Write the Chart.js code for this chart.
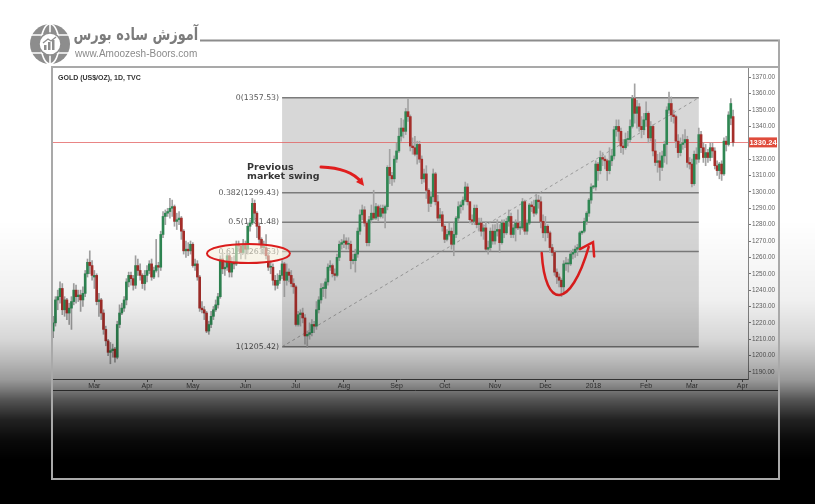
<!DOCTYPE html>
<html>
<head>
<meta charset="utf-8">
<script src="https://cdn.jsdelivr.net/npm/chart.js@4.4.1/dist/chart.umd.min.js"></script>
<style>
  body { margin: 0; background: #fff; }
  #wrap { position: relative; width: 815px; height: 504px; overflow: hidden; background: #fff; }
  #grafico { position: absolute; left: 0; top: 0; }
  #sombra {
    position: absolute; left: 0; top: 0; width: 815px; height: 504px; pointer-events: none;
    background: linear-gradient(to bottom,
      rgba(0,0,0,0) 0px, rgba(0,0,0,0) 220px, rgba(0,0,0,.06) 300px, rgba(0,0,0,.16) 340px,
      rgba(0,0,0,.27) 360px, rgba(0,0,0,.4) 380px, rgba(0,0,0,.53) 390px, rgba(0,0,0,.67) 400px,
      rgba(0,0,0,.87) 420px, rgba(0,0,0,.96) 440px, #000 460px);
  }
  #marco { position: absolute; left: 0; top: 0; }
  #logo-fa {
    position: absolute; right: 617px; top: 26px; font: bold 17px 'DejaVu Sans'; line-height: 1;
    color: #7c7c7c; direction: rtl; white-space: nowrap;
    transform: scaleX(0.76); transform-origin: right center;
  }
  #logo-url { position: absolute; left: 75px; top: 49px; font: 10px 'Liberation Sans'; line-height: 1; color: #8a8a8a; white-space: nowrap; }
</style>
</head>
<body>
<div id="wrap">
  <canvas id="grafico" width="815" height="504"></canvas>
  <div id="sombra"></div>
  <svg id="marco" width="815" height="504">
    <line x1="200" y1="40.5" x2="780" y2="40.5" stroke="#8c8c8c" stroke-width="2"/>
    <path d="M779 40 V479 H52 V67 H779" fill="none" stroke="#a9a9a9" stroke-width="2"/>
    <g transform="translate(50,44)">
      <circle r="20" fill="#8d8d8d"/>
      <ellipse rx="9" ry="20" fill="none" stroke="#fff" stroke-width="1.6"/>
      <line x1="-20" y1="-9" x2="20" y2="-9" stroke="#fff" stroke-width="1.6"/>
      <line x1="-20" y1="9" x2="20" y2="9" stroke="#fff" stroke-width="1.6"/>
      <line x1="0" y1="-20" x2="0" y2="20" stroke="#fff" stroke-width="1.6"/>
      <circle r="11" fill="#fff" stroke="#8d8d8d" stroke-width="1.5"/>
      <rect x="-6" y="1" width="2.5" height="5" fill="#8d8d8d"/>
      <rect x="-2" y="-2" width="2.5" height="8" fill="#8d8d8d"/>
      <rect x="2" y="-4" width="2.5" height="10" fill="#8d8d8d"/>
      <polyline points="-7,-1 -2,-5 1,-3 6,-7" fill="none" stroke="#8d8d8d" stroke-width="1.3"/>
    </g>
  </svg>
  <div id="logo-fa">آموزش ساده بورس</div>
  <div id="logo-url">www.Amoozesh-Boors.com</div>
</div>
<script>
// Datos diarios GOLD (US$/OZ), 1D, TVC — un valor por día hábil desde el 3 feb 2017
const fechaInicio = '2017-02-03';
const totalDias = 304; // incluye unos días vacíos a la derecha del último precio

const opens = [
  1215,1220,1234,1236,1241,1228,1234,1226,1229,1233,1240,1236,1237,1234,1238,1250,1257,1255,
  1248,1249,1233,1234,1226,1216,1209,1202,1203,1204,1199,1219,1226,1229,1234,1245,1249,1247,1243,1255,1252,1249,1244,
  1249,1252,1256,1248,1252,1255,1254,1274,1285,1287,1288,1290,1291,1282,1283,1284,1276,1264,1265,1264,
  1268,1255,1256,1248,1229,1228,1226,1215,1219,1224,1228,1231,1236,1259,1253,1254,1261,1251,1257,1256,1268,1267,1263,
  1268,1265,1279,1281,1293,1287,1279,1271,1266,1266,1261,1254,1254,1246,1243,1246,1249,1256,1246,1251,1249,1244,
  1242,1219,1225,1226,1223,1212,1213,1214,1219,1218,1228,1234,1241,1241,1245,1254,1255,1250,1249,1260,1268,
  1269,1270,1268,1268,1258,1258,1262,1276,1286,1289,1281,1269,1283,1287,1284,1291,1285,1290,1287,1291,1315,1310,1308,
  1320,1325,1334,1339,1337,1349,1346,1328,1327,1323,1329,1320,1308,1311,1301,1293,1297,1311,1294,1284,1286,
  1279,1271,1274,1276,1268,1274,1284,1291,1292,1295,1303,1294,1283,1282,1290,1280,1281,1276,1278,1265,1266,1276,
  1270,1276,1277,1269,1281,1275,1282,1285,1274,1278,1281,1278,1278,1294,1276,1281,1292,1291,1287,1295,1294,1282,
  1275,1279,1275,1266,1263,1251,1248,1246,1242,1256,1256,1256,1262,1263,1265,1266,1275,1276,1282,1287,1295,
  1303,1303,1317,1313,1321,1320,1319,1313,1319,1322,1338,1340,1337,1328,1327,1332,1332,1340,1357,1348,1352,1340,1338,
  1344,1348,1333,1340,1325,1318,1319,1315,1322,1329,1350,1354,1347,1346,1331,1324,1329,1330,1332,1318,
  1317,1305,1323,1320,1335,1327,1321,1324,1321,1327,1325,1316,1313,1317,1311,1331,1329,1345,1346
];
const highs = [
  1224,1236,1240,1245,1244,1236,1235,1232,1236,1244,1243,1240,1240,1242,1252,1259,1264,1258,
  1252,1250,1238,1235,1228,1218,1210,1208,1207,1205,1221,1231,1232,1236,1247,1251,1251,1249,1261,1259,1256,1250,1252,
  1255,1258,1259,1254,1271,1257,1276,1288,1289,1290,1296,1295,1292,1287,1288,1285,1277,1270,1269,1270,
  1269,1259,1258,1249,1233,1230,1227,1221,1227,1230,1234,1238,1261,1263,1257,1263,1262,1260,1261,1270,1270,1268,1271,
  1270,1281,1283,1296,1295,1288,1281,1272,1270,1274,1263,1258,1256,1249,1250,1252,1258,1257,1256,1253,1252,1247,
  1243,1227,1228,1229,1225,1215,1220,1222,1221,1233,1236,1244,1244,1247,1256,1258,1256,1253,1262,1270,1271,
  1274,1272,1272,1270,1262,1265,1278,1289,1292,1291,1282,1285,1292,1301,1293,1292,1292,1292,1292,1316,1326,1312,1322,
  1330,1339,1345,1344,1351,1357,1347,1333,1334,1331,1331,1322,1314,1316,1302,1300,1314,1312,1298,1290,1288,
  1280,1277,1281,1278,1281,1285,1294,1294,1297,1306,1305,1294,1286,1292,1292,1284,1284,1280,1282,1270,1278,1280,
  1280,1283,1280,1283,1283,1284,1289,1287,1280,1283,1289,1282,1296,1295,1283,1293,1294,1295,1299,1298,1297,1286,
  1285,1280,1276,1268,1264,1253,1250,1247,1258,1260,1259,1264,1265,1267,1268,1276,1276,1284,1288,1296,1305,
  1304,1319,1318,1325,1324,1322,1320,1327,1326,1340,1344,1344,1339,1332,1336,1337,1344,1359,1366,1356,1354,1346,1348,
  1355,1349,1343,1341,1332,1323,1324,1325,1331,1352,1361,1358,1350,1347,1335,1333,1335,1338,1334,1321,
  1320,1325,1327,1339,1337,1330,1329,1326,1330,1330,1327,1319,1318,1319,1333,1334,1349,1357,1350
];
const lows = [
  1211,1218,1228,1232,1225,1224,1222,1219,1216,1231,1232,1233,1227,1230,1236,1248,1250,1246,
  1241,1231,1224,1222,1213,1206,1200,1195,1199,1196,1198,1217,1225,1227,1231,1242,1243,1240,1241,1249,1246,1241,1240,
  1245,1250,1246,1247,1251,1248,1252,1272,1280,1285,1284,1285,1279,1277,1280,1271,1262,1260,1261,1262,
  1254,1252,1246,1227,1226,1222,1214,1213,1217,1222,1227,1229,1235,1250,1249,1252,1248,1248,1253,1255,1264,1259,1262,
  1259,1262,1276,1280,1283,1272,1268,1262,1262,1259,1252,1250,1243,1240,1241,1244,1247,1236,1243,1245,1242,1238,
  1218,1218,1218,1220,1207,1205,1210,1212,1214,1216,1226,1232,1236,1235,1243,1252,1248,1246,1248,1258,1265,
  1266,1265,1265,1253,1256,1251,1260,1274,1283,1279,1267,1267,1281,1283,1283,1282,1284,1284,1278,1289,1305,1304,1306,
  1318,1324,1331,1333,1335,1343,1325,1323,1322,1317,1318,1305,1306,1296,1288,1291,1294,1292,1282,1282,1276,
  1269,1270,1273,1265,1261,1272,1282,1287,1289,1294,1292,1281,1280,1280,1278,1276,1273,1271,1264,1262,1264,1268,
  1268,1273,1263,1268,1272,1274,1279,1272,1272,1270,1277,1274,1277,1274,1274,1280,1288,1285,1286,1290,1278,1272,
  1270,1272,1263,1261,1249,1244,1242,1236,1238,1252,1251,1255,1259,1260,1261,1265,1274,1275,1280,1285,1293,
  1302,1301,1307,1311,1316,1314,1307,1311,1316,1320,1334,1331,1324,1323,1326,1328,1330,1339,1342,1339,1337,1333,1335,
  1340,1330,1331,1322,1316,1312,1307,1313,1318,1317,1348,1343,1342,1327,1321,1322,1326,1327,1315,1314,
  1303,1304,1317,1318,1324,1318,1316,1318,1319,1321,1314,1310,1308,1307,1310,1325,1328,1341,1328
];
const closes = [
  1220,1234,1236,1241,1228,1234,1226,1229,1233,1240,1236,1237,1234,1238,1250,1257,1255,1249,
  1249,1233,1234,1226,1216,1209,1202,1203,1204,1199,1219,1226,1229,1234,1245,1249,1247,1243,1255,1252,1249,1244,1249,
  1252,1256,1248,1252,1255,1254,1274,1285,1287,1288,1290,1291,1282,1283,1284,1276,1264,1265,1264,1268,
  1255,1256,1248,1229,1228,1226,1215,1219,1224,1228,1231,1236,1259,1253,1254,1261,1251,1257,1256,1268,1267,1263,1268,
  1265,1279,1281,1293,1287,1279,1271,1266,1266,1261,1254,1254,1246,1243,1246,1249,1256,1246,1251,1249,1244,1242,
  1219,1225,1226,1223,1212,1213,1214,1219,1218,1228,1234,1241,1241,1245,1254,1255,1250,1249,1260,1268,1269,
  1270,1268,1268,1258,1258,1262,1276,1286,1289,1281,1269,1283,1287,1284,1291,1285,1290,1287,1291,1315,1310,1308,1320,
  1325,1334,1339,1337,1349,1346,1328,1327,1323,1329,1320,1308,1311,1301,1293,1297,1311,1294,1284,1286,1279,
  1271,1274,1276,1268,1274,1284,1291,1292,1295,1303,1294,1283,1282,1290,1280,1281,1276,1278,1265,1266,1276,1270,
  1276,1277,1269,1281,1275,1282,1285,1274,1278,1281,1278,1278,1294,1276,1281,1292,1291,1287,1295,1294,1282,1275,
  1279,1275,1266,1263,1251,1248,1246,1242,1256,1256,1256,1262,1263,1265,1266,1275,1276,1282,1287,1295,1303,
  1303,1317,1313,1321,1320,1319,1313,1319,1322,1338,1340,1337,1328,1327,1332,1332,1340,1357,1348,1352,1340,1338,1344,
  1348,1333,1340,1325,1318,1319,1315,1322,1329,1350,1354,1347,1346,1331,1324,1329,1330,1332,1318,1317,
  1305,1323,1320,1335,1327,1321,1324,1321,1327,1325,1316,1313,1317,1311,1331,1329,1347,1354,1330.24
];

// Escala de precios y etiquetas
const precioTicks = [1190,1200,1210,1220,1230,1240,1250,1260,1270,1280,1290,1300,1310,1320,1330,1340,1350,1360,1370];
const precioMin = 1185.7;
const precioMax = 1376.3;
const precioActual = 1330.24;
const nombresMes = ['Jan','Feb','Mar','Apr','May','Jun','Jul','Aug','Sep','Oct','Nov','Dec'];

// Retroceso de Fibonacci (índices de día y precios)
const fibInicio = 100;
const fibFin = 282;
const fibNiveles = [0, 0.382, 0.5, 0.618, 1];
const fibPrecios = [1357.53, 1299.43, 1281.48, 1263.53, 1205.42];

// Fechas hábiles (lunes a viernes)
const fechas = [];
const d = new Date(fechaInicio + 'T00:00:00Z');
while (fechas.length < totalDias) {
  const wd = d.getUTCDay();
  if (wd !== 0 && wd !== 6) fechas.push(d.toISOString().slice(0, 10));
  d.setUTCDate(d.getUTCDate() + 1);
}

function esInicioMes(i) {
  return i > 0 && i < fechas.length && fechas[i].slice(5, 7) !== fechas[i - 1].slice(5, 7);
}
function etiquetaMes(i) {
  if (!esInicioMes(i)) return '';
  const m = +fechas[i].slice(5, 7);
  return m === 1 ? fechas[i].slice(0, 4) : nombresMes[m - 1];
}

const verde = '#2f8753';
const rojo = '#a52e2a';

// Anotaciones dibujadas a mano en la imagen (en unidades de datos: índice, precio)
const notas = {
  texto: { i: 84.7, lineas: [['Previous', 1313.6], ['market swing', 1307.8]] },
  flecha: [[117.0, 1315.2], [129.7, 1314.6], [135.8, 1303.6]],
  elipse: { i: 85.3, p: 1262.4, rx: 41.5, ry: 9.5 },
  curva: [[213.4, 1262.7], [214.9, 1227.9], [225.9, 1227.9], [233.9, 1266.3]],
  punta: [[230.1, 1265.0], [235.8, 1269.3], [236.3, 1260.6]]
};

const dibujos = {
  id: 'dibujos',
  beforeDatasetsDraw(chart) {
    const { ctx, chartArea: a, scales: { x, y } } = chart;
    const x0 = x.getPixelForValue(fibInicio);
    const x1 = x.getPixelForValue(fibFin);
    const yTop = y.getPixelForValue(fibPrecios[0]);
    const yBot = y.getPixelForValue(fibPrecios[fibPrecios.length - 1]);
    ctx.save();
    ctx.fillStyle = '#d7d7d7';
    ctx.fillRect(x0, yTop, x1 - x0, yBot - yTop);

    // niveles
    ctx.strokeStyle = '#7b7b7b';
    ctx.lineWidth = 1.5;
    ctx.font = "7.8px 'DejaVu Sans'";
    ctx.fillStyle = '#555';
    ctx.textAlign = 'right';
    ctx.textBaseline = 'middle';
    fibNiveles.forEach((n, k) => {
      const yy = y.getPixelForValue(fibPrecios[k]);
      ctx.beginPath();
      ctx.moveTo(x0, yy);
      ctx.lineTo(x1, yy);
      ctx.stroke();
      ctx.fillText(n + '(' + fibPrecios[k].toFixed(2) + ')', x0 - 3, yy);
    });

    // diagonal punteada
    ctx.setLineDash([3, 3]);
    ctx.strokeStyle = '#9a9a9a';
    ctx.lineWidth = 1;
    ctx.beginPath();
    ctx.moveTo(x0, yBot);
    ctx.lineTo(x1, yTop);
    ctx.stroke();
    ctx.setLineDash([]);

    // linea del precio actual
    const yp = Math.round(y.getPixelForValue(precioActual)) + 0.5;
    ctx.strokeStyle = 'rgba(226,92,92,0.75)';
    ctx.beginPath();
    ctx.moveTo(a.left, yp);
    ctx.lineTo(a.right, yp);
    ctx.stroke();
    ctx.restore();
  },
  afterDatasetsDraw(chart) {
    const { ctx, scales: { x, y } } = chart;
    const P = ([i, p]) => [x.getPixelForValue(i), y.getPixelForValue(p)];
    ctx.save();

    // texto
    ctx.font = "bold 9.5px 'DejaVu Sans'";
    ctx.fillStyle = '#363636';
    ctx.textAlign = 'left';
    ctx.textBaseline = 'alphabetic';
    notas.texto.lineas.forEach(([t, p]) => {
      ctx.fillText(t, x.getPixelForValue(notas.texto.i), y.getPixelForValue(p));
    });

    // flecha hacia el swing anterior
    const [f0, f1, f2] = notas.flecha.map(P);
    ctx.strokeStyle = '#e01e1e';
    ctx.fillStyle = '#e01e1e';
    ctx.lineWidth = 3;
    ctx.lineCap = 'round';
    ctx.beginPath();
    ctx.moveTo(f0[0], f0[1]);
    ctx.quadraticCurveTo(f1[0], f1[1], f2[0] - 3, f2[1] - 4);
    ctx.stroke();
    const ang = Math.atan2(f2[1] - f1[1], f2[0] - f1[0]);
    ctx.beginPath();
    ctx.moveTo(f2[0], f2[1]);
    ctx.lineTo(f2[0] - 9 * Math.cos(ang - 0.45), f2[1] - 9 * Math.sin(ang - 0.45));
    ctx.lineTo(f2[0] - 9 * Math.cos(ang + 0.45), f2[1] - 9 * Math.sin(ang + 0.45));
    ctx.closePath();
    ctx.fill();

    // elipse sobre 0.618
    const [ex, ey] = P([notas.elipse.i, notas.elipse.p]);
    ctx.beginPath();
    ctx.ellipse(ex, ey, notas.elipse.rx, notas.elipse.ry, 0, 0, Math.PI * 2);
    ctx.fillStyle = 'rgba(255,249,228,0.55)';
    ctx.fill();
    ctx.lineWidth = 2;
    ctx.stroke();

    // curva en U de diciembre
    const [c0, c1, c2, c3] = notas.curva.map(P);
    ctx.lineWidth = 2.5;
    ctx.beginPath();
    ctx.moveTo(c0[0], c0[1]);
    ctx.bezierCurveTo(c1[0], c1[1], c2[0], c2[1], c3[0], c3[1]);
    ctx.stroke();
    const pt = notas.punta.map(P);
    ctx.beginPath();
    ctx.moveTo(pt[0][0], pt[0][1]);
    ctx.lineTo(pt[1][0], pt[1][1]);
    ctx.lineTo(pt[2][0], pt[2][1]);
    ctx.stroke();
    ctx.restore();
  },
  afterDraw(chart) {
    const { ctx, chartArea: a, scales: { y } } = chart;
    ctx.save();
    // etiqueta del precio actual
    const yp = y.getPixelForValue(precioActual);
    ctx.fillStyle = '#df4b3b';
    ctx.fillRect(a.right + 1, yp - 5, 28, 10);
    ctx.fillStyle = '#fff';
    ctx.font = "bold 7.5px 'Liberation Sans'";
    ctx.textAlign = 'center';
    ctx.textBaseline = 'middle';
    ctx.fillText(precioActual.toFixed(2), a.right + 15, yp + 0.5);

    // titulo
    ctx.fillStyle = '#333';
    ctx.font = "bold 7px 'Liberation Sans'";
    ctx.textAlign = 'left';
    ctx.fillText('GOLD (US$/OZ), 1D, TVC', a.left + 6, a.top + 11);

    // linea inferior del eje de tiempo
    ctx.strokeStyle = '#5a5a5a';
    ctx.lineWidth = 1;
    ctx.beginPath();
    ctx.moveTo(a.left, a.bottom + 11.5);
    ctx.lineTo(779, a.bottom + 11.5);
    ctx.stroke();
    ctx.restore();
  }
};

const ctx = document.getElementById('grafico');
new Chart(ctx, {
  type: 'bar',
  data: {
    labels: fechas,
    datasets: [
      {
        label: 'cuerpo',
        data: opens.map((o, i) => [o, closes[i]]),
        backgroundColor: closes.map((c, i) => (c >= opens[i] ? verde : rojo)),
        barThickness: 2,
        minBarLength: 1,
        grouped: false,
        order: 0
      },
      {
        label: 'mecha',
        data: lows.map((l, i) => [l, highs[i]]),
        backgroundColor: '#a3a3a3',
        barThickness: 1,
        grouped: false,
        order: 1
      }
    ]
  },
  options: {
    responsive: false,
    animation: false,
    layout: { padding: { left: 52, top: 67, right: 36, bottom: 114 } },
    plugins: { legend: { display: false }, tooltip: { enabled: false } },
    scales: {
      x: {
        type: 'category',
        offset: true,
        afterBuildTicks: s => { s.ticks = s.ticks.filter(t => esInicioMes(t.value)); },
        afterFit: s => { s.height = 11; },
        grid: { drawOnChartArea: false, offset: false, tickLength: 3, color: '#666' },
        border: { color: '#555' },
        ticks: {
          autoSkip: false,
          maxRotation: 0,
          padding: 0,
          color: '#555',
          font: { family: 'Liberation Sans', size: 7 },
          callback: v => etiquetaMes(v)
        }
      },
      y: {
        position: 'right',
        min: precioMin,
        max: precioMax,
        afterBuildTicks: s => { s.ticks = precioTicks.map(v => ({ value: v })); },
        afterFit: s => { s.width = 31; },
        grid: { drawOnChartArea: false, tickLength: 3, color: '#777' },
        border: { color: '#888' },
        ticks: {
          padding: 1,
          color: '#666',
          font: { family: 'Liberation Sans', size: 6.4 },
          callback: v => v.toFixed(2)
        }
      }
    }
  },
  plugins: [dibujos]
});
</script>
</body>
</html>
